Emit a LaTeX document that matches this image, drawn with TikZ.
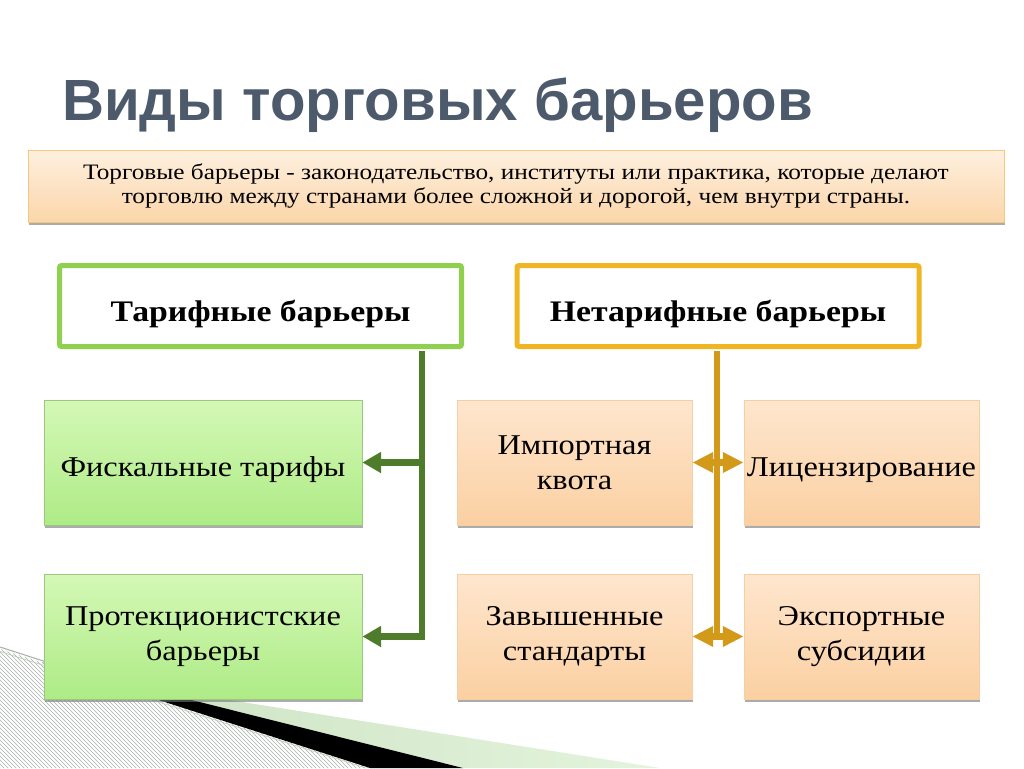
\documentclass[tikz,border=0pt]{standalone}
\usepackage{fontspec}
\setmainfont{Liberation Serif}[FakeStretch=1.13]
\newfontfamily\titlefont{Liberation Sans}
\newfontfamily\deffont{Liberation Serif}[FakeStretch=1.15]
\usetikzlibrary{arrows.meta,shadows,patterns}
\definecolor{titlegray}{HTML}{4D5A6B}
\definecolor{gfillt}{HTML}{D4F8B6}
\definecolor{gfillb}{HTML}{AEEB86}
\definecolor{gborder}{HTML}{9CC77E}
\definecolor{pfillt}{HTML}{FEE6CE}
\definecolor{pfillb}{HTML}{FBD0A2}
\definecolor{pborder}{HTML}{F3CFA3}
\definecolor{deft}{HTML}{FEF0DF}
\definecolor{defb}{HTML}{FBD6AA}
\definecolor{defborder}{HTML}{F5C882}
\definecolor{tgreen}{HTML}{8FD14F}
\definecolor{torange}{HTML}{EFB522}
\definecolor{dgreen}{HTML}{4F7C2A}
\definecolor{dorange}{HTML}{D39A1A}
\definecolor{bandgreen}{HTML}{D8EFCE}
\definecolor{hatchline}{HTML}{A9B0AD}
\tikzset{
  boxshadow/.style={drop shadow={shadow xshift=0.6pt, shadow yshift=-2.2pt, fill=black!55, opacity=0.6}},
  boxtext/.style={align=center, font=\fontsize{21.5}{26.5}\selectfont, execute at begin node={\rule{0pt}{25pt}}},
  greenbox/.style={boxshadow, boxtext, draw=gborder, line width=0.6pt, top color=gfillt, bottom color=gfillb,
    minimum width=238.5pt, minimum height=93.75pt, inner sep=1pt},
  peachbox/.style={boxshadow, boxtext, draw=pborder, line width=0.6pt, top color=pfillt, bottom color=pfillb,
    minimum width=176.25pt, minimum height=93.75pt, inner sep=0pt},
  headbox/.style={draw=#1, line width=3.75pt, fill=white, rounded corners=1.5pt,
    minimum width=301.5pt, minimum height=60.75pt, text height=23pt, text depth=0pt,
    font=\fontsize{22.4}{26}\selectfont\bfseries},
  deftbox/.style={boxshadow, draw=defborder, line width=0.6pt, top color=deft, bottom color=defb,
    minimum width=732pt, minimum height=54pt, align=center, font=\deffont\fontsize{16.5}{18.5}\selectfont},
  gline/.style={draw=dgreen, line width=4.8pt},
  oline/.style={draw=dorange, line width=4.8pt},
  garrow/.style={gline, -{Triangle[width=15pt,length=14pt]}},
  oarrow/.style={oline, {Triangle[width=14.5pt,length=15.5pt]}-{Triangle[width=14.5pt,length=15.5pt]}},
}
\begin{document}
\begin{tikzpicture}[x=0.75pt, y=-0.75pt]
\useasboundingbox (0,0) rectangle (1024,768);
% decoration bottom-left
\fill[pattern=north west lines, pattern color=hatchline] (0,649) -- (370,768) -- (0,768) -- cycle;
\draw[hatchline, line width=0.8pt] (0,647) -- (372,767);
\draw[bandgreen!70!gray, line width=0.5pt] (0,651.5) -- (366,768);
\shade[left color=bandgreen!95!black, right color=bandgreen!70!white] (128,684) -- (660,768) -- (463,768) -- cycle;
\fill[black] (42,662.5) -- (463,768) -- (370,768) -- cycle;
% title
\node[anchor=base west, inner sep=0pt, text=titlegray, font=\titlefont\bfseries\fontsize{43.6}{50}\selectfont] (title) at (62,120) {Виды торговых барьеров};
% definition
\node[deftbox] (def) at (516,186) {Торговые барьеры - законодательство, институты или практика, которые делают\\торговлю между странами более сложной и дорогой, чем внутри страны.};
% headers
\node[headbox=tgreen] (tar) at (260.5,306) {Тарифные барьеры};
\node[headbox=torange] (nontar) at (718,306) {Нетарифные барьеры};
% boxes
\node[greenbox] (fisc) at (203,462.5) {Фискальные тарифы};
\node[greenbox] (prot) at (203,636.5) {Протекционистские\\барьеры};
\node[peachbox] (quota) at (574.5,462.5) {Импортная\\квота};
\node[peachbox] (lic) at (861.5,462.5) {Лицензирование};
\node[peachbox] (std) at (574.5,636.5) {Завышенные\\стандарты};
\node[peachbox] (exp) at (861.5,636.5) {Экспортные\\субсидии};
% connectors
\coordinate (gtop) at (422,351);
\coordinate (gbot) at (422,636.5);
\coordinate (otop) at (717,351);
\coordinate (obot) at (717,636.5);
\draw[gline] (gtop) -- ([yshift=2.4pt]gbot);
\draw[garrow] ([xshift=2.4pt]gbot) -- (prot.east);
\draw[garrow] (gtop |- fisc.east) -- (fisc.east);
\draw[oline] (otop) -- (obot);
\draw[oarrow] (quota.east) -- (lic.west);
\draw[oarrow] (std.east) -- (exp.west);
\end{tikzpicture}
\end{document}
